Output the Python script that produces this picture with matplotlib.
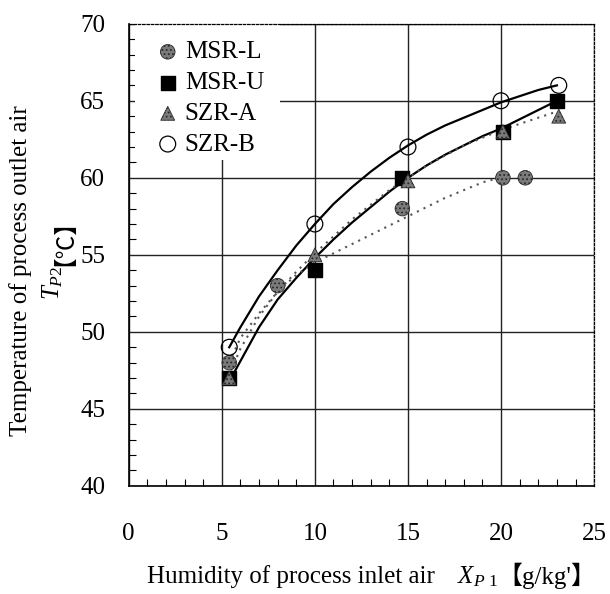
import numpy as np
import matplotlib
matplotlib.use("Agg")
from matplotlib import pyplot as plt
from matplotlib.patches import Rectangle

plt.rcParams['font.family'] = ['Liberation Serif', 'DejaVu Serif', 'Noto Sans CJK JP']
plt.rcParams['mathtext.fontset'] = 'custom'
plt.rcParams['mathtext.rm'] = 'Liberation Serif'
plt.rcParams['mathtext.it'] = 'Liberation Serif:italic'
plt.rcParams['hatch.linewidth'] = 0.8

# measured points
MSRL_X = [5.4, 8.0, 14.7, 20.1, 21.3]
MSRL_Y = [48.0, 53.0, 58.0, 60.0, 60.0]
MSRU_X = [5.4, 10.0, 14.7, 20.1, 23.0]
MSRU_Y = [47.0, 54.0, 60.0, 63.0, 65.0]
SZRA_X = [5.4, 10.0, 15.0, 20.1, 23.1]
SZRA_Y = [47.0, 55.0, 59.8, 63.0, 64.0]
SZRB_X = [5.4, 10.0, 15.0, 20.0, 23.1]
SZRB_Y = [49.0, 57.0, 62.0, 65.0, 66.0]

# fitted curves
CB_X = [5.4, 6, 7, 8, 9, 10, 11, 12, 13, 14, 15, 16, 17, 18, 19, 20, 21, 22, 23]
CB_Y = [49.0, 50.3, 52.3, 54.0, 55.6, 57.0, 58.3, 59.4, 60.4, 61.3, 62.1,
        62.8, 63.4, 63.9, 64.4, 64.9, 65.3, 65.7, 66.0]
CU_X = [5.5, 6, 7, 8, 9, 10, 11, 12, 13, 14, 15, 16, 17, 18, 19, 20, 21, 22, 23]
CU_Y = [47.0, 48.1, 50.3, 52.1, 53.5, 54.8, 56.0, 57.1, 58.1, 59.1, 60.0,
        60.8, 61.5, 62.1, 62.7, 63.2, 63.8, 64.4, 65.0]
CA_X = [5.5, 6, 7, 8, 9, 10, 12, 14, 16, 18, 20, 22, 23]
CA_Y = [47.5, 48.9, 51.0, 52.6, 53.9, 55.1, 57.3, 59.2, 60.8, 62.1, 63.1, 63.9, 64.3]
CL_X = [5.4, 6, 7, 8, 9, 10, 11, 13, 15, 17, 19, 20.5]
CL_Y = [48.0, 49.6, 51.2, 52.6, 53.7, 54.5, 55.1, 56.3, 57.5, 58.7, 59.7, 60.2]

LABELS = ["MSR-L", "MSR-U", "SZR-A", "SZR-B"]

fig = plt.figure(figsize=(6.1, 5.94), dpi=100)
ax = fig.add_axes([0.211, 0.182, 0.763, 0.778])
ax.set_axisbelow(True)

ax.plot(CB_X, CB_Y, c='black', lw=1.6, zorder=3)
ax.plot(CU_X, CU_Y, c='black', lw=1.6, zorder=3)
ax.plot(CA_X, CA_Y, c='#555555', lw=1.5, ls=(0, (1, 2.5)), zorder=3)
ax.plot(CL_X, CL_Y, c='#555555', lw=1.5, ls=(0, (1, 2.5)), zorder=3)

ax.scatter(MSRL_X, MSRL_Y, marker='o', s=110, facecolor='#7a7a7a',
           edgecolor='#2a2a2a', hatch='....', lw=0.6, zorder=4, label=LABELS[0])
ax.scatter(MSRU_X, MSRU_Y, marker='s', s=95, facecolor='black',
           edgecolor='black', zorder=4, label=LABELS[1])
ax.scatter(SZRA_X, SZRA_Y, marker='^', s=100, facecolor='#7a7a7a',
           edgecolor='#2a2a2a', hatch='....', lw=0.6, zorder=5, label=LABELS[2])
ax.scatter(SZRB_X, SZRB_Y, marker='o', s=130, facecolor='none',
           edgecolor='black', lw=0.9, zorder=6, label=LABELS[3])

ax.set_xlim(0, 25)
ax.set_ylim(40, 70)
ax.set_xticks(np.arange(0, 26, 5))
ax.set_yticks(np.arange(40, 71, 5))
ax.set_xticks(np.arange(0, 26, 1), minor=True)
ax.set_yticks(np.arange(40, 71, 1), minor=True)
ax.tick_params(which='both', direction='in', top=False, right=False)
ax.tick_params(which='major', length=0, labelsize=18)
ax.tick_params(axis='x', which='major', pad=27)
ax.tick_params(axis='y', which='major', pad=17)
ax.tick_params(which='minor', length=5, width=0.8)
ax.grid(True, which='major', color='#222222', lw=1.0)

for s in ['left', 'bottom']:
    ax.spines[s].set_linewidth(1.2)
for s in ['top', 'right']:
    ax.spines[s].set_linewidth(0.9)
    ax.spines[s].set_linestyle((0, (2, 1.5)))

# white patch behind the legend hides the grid there
ax.add_patch(Rectangle((0.013, 0.706), 0.312, 0.294, transform=ax.transAxes,
                       facecolor='white', edgecolor='none', zorder=1))

ax.legend(loc='upper left', bbox_to_anchor=(0.057, 0.963), fontsize=18,
          frameon=False, handletextpad=0.18, labelspacing=0.33,
          borderpad=0.0, handlelength=1.0, borderaxespad=0.0)

# y label, two lines
fig.text(0.033, 0.545, "Temperature of process outlet air", rotation=90,
         fontsize=18, ha='center', va='center')
t1 = fig.text(0.087, 0.495, "$T_{P2}$", rotation=90, fontsize=18,
              ha='center', va='bottom')
ax.annotate("\u3010\u2103\u3011", xy=(0.5, 1.0), xycoords=t1, rotation=90,
            fontsize=17, ha='center', va='bottom',
            family=['Noto Sans CJK JP', 'DejaVu Sans'],
            annotation_clip=False)

# x label
fig.text(0.241, 0.0185, "Humidity of process inlet air", fontsize=18,
         ha='left', va='baseline')
t2 = fig.text(0.749, 0.0185, "$X_{P\\ 1}$", fontsize=18,
              ha='left', va='baseline')
ax.annotate("\u3010g/kg'\u3011", xy=(1.0, 0.0), xycoords=t2, xytext=(0, 0),
            textcoords='offset points', fontsize=18, ha='left', va='bottom',
            annotation_clip=False)

plt.savefig("out.png", dpi=100)
plt.close()
